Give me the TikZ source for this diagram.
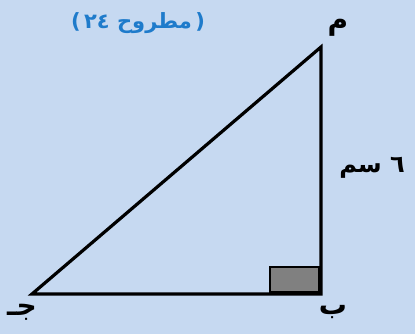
\documentclass[tikz,border=0pt]{standalone}
\usepackage{fontspec}
\newfontfamily\arabicfont[Script=Arabic]{DejaVu Sans}
\newfontfamily\latinfont{DejaVu Sans}
\TeXXeTstate=1
\definecolor{bgblue}{HTML}{C6D9F1}
\definecolor{titleblue}{HTML}{1E7BCB}
\definecolor{boxgray}{HTML}{808080}
\begin{document}
\begin{tikzpicture}[x=1pt,y=1pt,
  lbl/.style={font=\arabicfont\bfseries\fontsize{28}{32}\selectfont, text=black, inner sep=0pt},
  side/.style={line width=3.2pt, line cap=rect}]
\fill[bgblue] (0,0) rectangle (415,334);
\useasboundingbox (0,0) rectangle (415,334);
\coordinate (A) at (321,287);
\coordinate (B) at (321,40);
\coordinate (C) at (32,40);
\fill[boxgray, draw=black, line width=2pt] (270,42) rectangle (319,67);
\draw[side, line join=miter] (A) -- (B) -- (C) -- cycle;
\node[lbl] (ma) at (338,306) {\beginR م\endR};
\node[lbl] (ba) at (333,22) {\beginR ب\endR};
\node[lbl] (ja) at (22,22) {\beginR جـ\endR};
\node[lbl, font=\arabicfont\bfseries\fontsize{24}{28}\selectfont] (len) at (372,166) {\beginR\beginL ٦\endL{} سم\endR};
\node[font=\arabicfont\bfseries\fontsize{21}{24}\selectfont, text=titleblue, inner sep=0pt] (title) at (138,311)
  {{\latinfont\bfseries(}\,\beginR مطروح \beginL٢٤\endL\endR\,{\latinfont\bfseries)}};
\end{tikzpicture}
\end{document}
